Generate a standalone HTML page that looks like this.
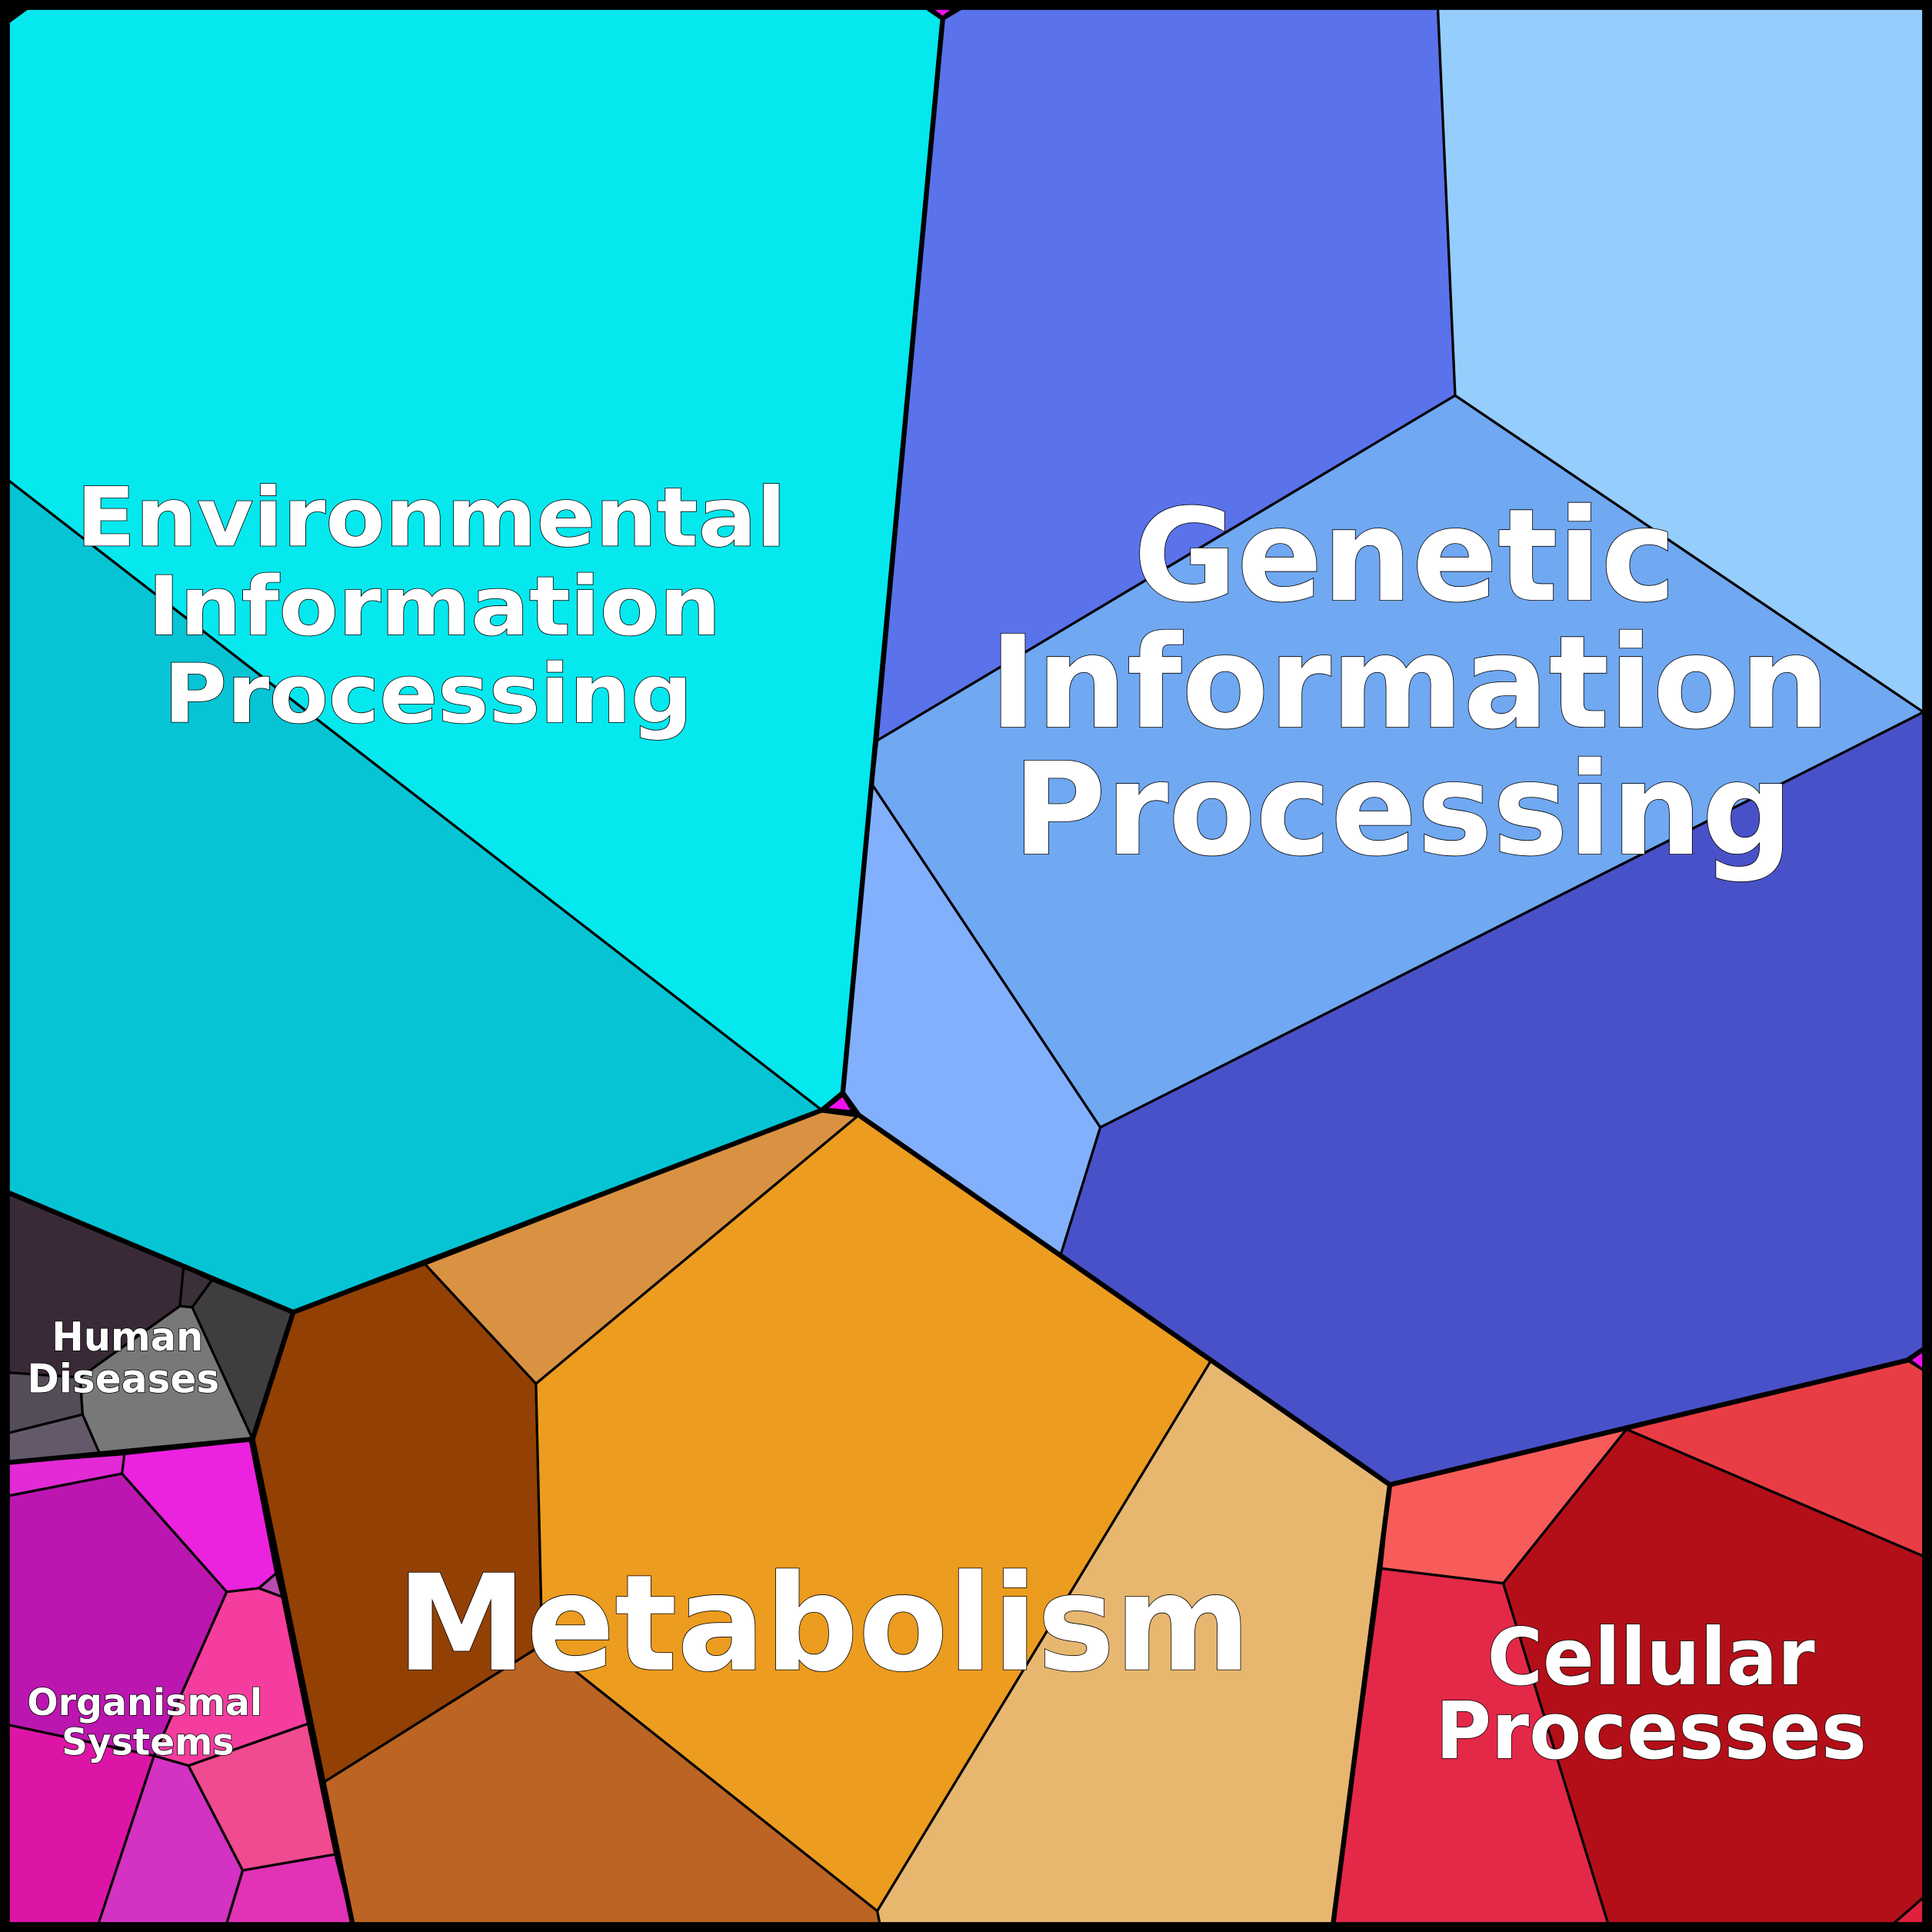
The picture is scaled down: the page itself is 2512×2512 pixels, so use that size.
<!DOCTYPE html>
<html><head><meta charset="utf-8"><style>html,body{margin:0;padding:0;background:#000}svg{display:block}</style></head>
<body>
<svg width="2512" height="2512" viewBox="0 0 1568 1568" xmlns="http://www.w3.org/2000/svg">
<rect x="0" y="0" width="1568" height="1568" fill="#000"/>
<g stroke="#000" stroke-width="2" stroke-linejoin="round">
<!-- Environmental -->
<polygon fill="#05e8ee" points="7,18 22,7 752,7 765,16 684,887 667,901 7,390"/>
<polygon fill="#06c4d4" points="7,390 667,901 238,1065 7,968"/>
<!-- Human diseases -->
<polygon fill="#3a2a38" points="7,968 149,1028 146,1060 65,1118 7,1114"/>
<polygon fill="#3a3038" points="149,1028 172,1039 156,1061 146,1060"/>
<polygon fill="#3f3d3f" points="172,1039 238,1065 205,1168 156,1061"/>
<polygon fill="#787878" points="146,1060 156,1061 205,1168 81,1180 67,1148 65,1118"/>
<polygon fill="#554c5a" points="7,1114 65,1118 67,1148 7,1163"/>
<polygon fill="#64596a" points="7,1163 67,1148 81,1180 7,1187"/>
<!-- Organismal -->
<polygon fill="#e22ad6" points="7,1187 103,1180 99,1196 7,1214"/>
<polygon fill="#eb22de" points="101,1180 203,1169 224,1277 210,1289 184,1292 99,1196"/>
<polygon fill="#b84ab0" points="224,1277 229,1296 210,1289"/>
<polygon fill="#bb16b0" points="7,1214 99,1196 184,1292 125,1425 7,1400"/>
<polygon fill="#f43d9e" points="184,1292 210,1289 229,1296 250,1399 153,1433 125,1425"/>
<polygon fill="#dd15a6" points="7,1400 125,1425 80,1561 7,1561"/>
<polygon fill="#d332c2" points="125,1425 153,1433 197,1518 184,1561 80,1561"/>
<polygon fill="#f04a90" points="153,1433 250,1399 272,1505 197,1518"/>
<polygon fill="#e232b5" points="197,1518 272,1505 286,1561 184,1561"/>
<!-- Metabolism -->
<polygon fill="#934004" points="205,1168 238,1065 345,1026 435,1123 440,1335 262,1447"/>
<polygon fill="#d99242" points="345,1026 667,901 697,905 435,1123"/>
<polygon fill="#ec9c1f" points="435,1123 697,905 983,1104 712,1551 440,1335"/>
<polygon fill="#bb6423" points="262,1447 440,1335 712,1551 714,1561 286,1561"/>
<polygon fill="#e7b770" points="983,1104 1128,1205 1082,1561 714,1561 712,1551"/>
<!-- Genetic -->
<polygon fill="#5a72ea" points="765,16 780,7 1167,7 1181,321 712,601"/>
<polygon fill="#95cdfc" points="1167,7 1561,7 1561,578 1181,321"/>
<polygon fill="#70a8f2" points="712,601 1181,321 1561,578 893,915 708,637"/>
<polygon fill="#83b0fc" points="708,637 893,915 861,1018 697,905 684,887"/>
<polygon fill="#4951c9" points="893,915 1561,578 1561,1095 1548,1104 1128,1205 861,1018"/>
<!-- Cellular -->
<polygon fill="#f75c5a" points="1128,1205 1320,1160 1220,1285 1121,1273"/>
<polygon fill="#e83d45" points="1320,1160 1548,1104 1561,1112 1561,1263"/>
<polygon fill="#b30f18" points="1320,1160 1561,1263 1561,1540 1537,1561 1305,1561 1220,1285"/>
<polygon fill="#e42848" points="1121,1273 1220,1285 1305,1561 1082,1561"/>
<polygon fill="#e0203c" points="1537,1561 1561,1540 1561,1561"/>
<!-- tiny magenta -->
<polygon fill="#f010f0" points="670,900 684,889 692,902"/>
<polygon fill="#f010f0" points="756,7 774,7 765,14"/>
<polygon fill="#f010f0" points="1549,1103 1561,1095 1561,1112"/>
</g>
<!-- thick region borders -->
<g fill="none" stroke="#000" stroke-width="4" stroke-linejoin="round">
<polyline points="765,16 684,887 697,905 1128,1205 1082,1561"/>
<polyline points="684,887 667,901 238,1065 7,968"/>
<polyline points="238,1065 205,1168 286,1561"/>
<polyline points="205,1168 7,1187"/>
<polyline points="1128,1205 1548,1104 1561,1095"/>
<polyline points="667,901 697,905"/>
</g>
<rect x="3.5" y="3.5" width="1561" height="1561" fill="none" stroke="#000" stroke-width="7"/>
<g font-family="'DejaVu Sans','Liberation Sans',sans-serif" font-weight="bold" fill="#fff" stroke="#000" stroke-width="1" paint-order="stroke" lengthAdjust="spacingAndGlyphs">
<text x="62" y="443" font-size="66" textLength="576" lengthAdjust="spacingAndGlyphs">Environmental</text>
<text x="120" y="515" font-size="66" textLength="465" lengthAdjust="spacingAndGlyphs">Information</text>
<text x="133" y="586" font-size="66" textLength="429" lengthAdjust="spacingAndGlyphs">Processing</text>
<text x="920" y="487" font-size="104" textLength="440" lengthAdjust="spacingAndGlyphs">Genetic</text>
<text x="803" y="590" font-size="104" textLength="682" lengthAdjust="spacingAndGlyphs">Information</text>
<text x="822" y="693" font-size="104" textLength="633" lengthAdjust="spacingAndGlyphs">Processing</text>
<text x="322" y="1355" font-size="108" textLength="693" lengthAdjust="spacingAndGlyphs">Metabolism</text>
<text x="1207" y="1367" font-size="64" textLength="266" lengthAdjust="spacingAndGlyphs">Cellular</text>
<text x="1165" y="1427" font-size="64" textLength="350" lengthAdjust="spacingAndGlyphs">Processes</text>
<text x="42" y="1096" font-size="32" textLength="123" lengthAdjust="spacingAndGlyphs">Human</text>
<text x="22" y="1130" font-size="32" textLength="156" lengthAdjust="spacingAndGlyphs">Diseases</text>
<text x="22" y="1392" font-size="30" textLength="191" lengthAdjust="spacingAndGlyphs">Organismal</text>
<text x="50" y="1424" font-size="30" textLength="140" lengthAdjust="spacingAndGlyphs">Systems</text>
</g>
</svg>
</body></html>
